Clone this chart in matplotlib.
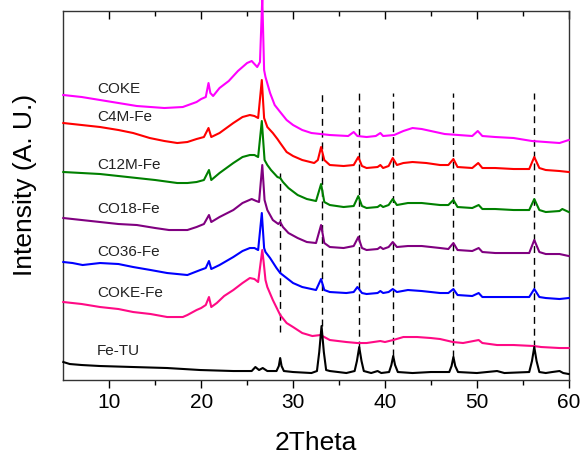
import matplotlib
matplotlib.use("Agg")
import matplotlib.pyplot as plt

plt.rcParams['font.family'] = ['Liberation Sans', 'DejaVu Sans']

# ---- data (intensity in arbitrary units, stacked) ----
coke_x = [5.0, 7.0, 9.0, 11.0, 13.0, 14.5, 16.0, 18.0, 19.5, 20.0, 20.5, 20.8, 21.0, 21.3, 22.0, 23.0,
          24.0, 25.0, 25.5, 26.1, 26.4, 26.65, 26.85, 27.0, 27.5, 28.0, 28.6, 29.3, 30.0, 31.0, 32.0, 33.0,
          34.0, 36.0, 36.6, 37.0, 38.0, 39.0, 39.5, 39.8, 41.0, 42.0, 43.0, 44.0, 45.0, 46.5, 48.0, 49.5,
          50.1, 50.6, 52.0, 54.0, 56.0, 57.5, 59.0, 60.0]
coke_y = [285, 283, 280, 277, 274, 273, 272, 273, 278, 281, 283, 297, 287, 284, 292, 299,
          309, 317, 319, 313, 318, 382, 310, 303, 287, 275, 268, 260, 255, 250, 247, 246,
          245, 244, 248, 244, 243, 244, 247, 244, 245, 249, 252, 251, 249, 246, 245, 244,
          249, 244, 243, 242, 239, 238, 237, 240]

c4m_x = [5.0, 7.0, 9.0, 11.0, 12.6, 14.4, 16.0, 17.4, 18.5, 19.5, 20.3, 20.8, 21.1, 22.0, 23.5, 24.5,
         25.3, 25.8, 26.2, 26.6, 26.85, 27.2, 27.8, 28.3, 28.6, 29.3, 30.0, 31.0, 32.3, 32.7, 33.05, 33.4,
         34.0, 35.5, 36.6, 37.1, 37.5, 38.0, 39.2, 39.5, 39.8, 40.4, 40.85, 41.3, 42.0, 43.0, 44.5, 46.0,
         46.9, 47.45, 47.9, 49.5, 50.15, 50.6, 52.0, 54.0, 55.7, 56.25, 56.8, 57.5, 59.0, 60.0]
c4m_y = [257, 255, 253, 250, 247, 242, 239, 237, 238, 241, 243, 252, 243, 247, 257, 263,
         265, 264, 262, 300, 262, 253, 247, 241, 237, 228, 224, 220, 217, 220, 233, 220,
         215, 214, 215, 223, 214, 212, 213, 215, 212, 214, 222, 215, 217, 218, 217, 215,
         215, 221, 213, 212, 217, 212, 212, 211, 211, 223, 212, 210, 209, 208]

c12m_x = [5.0, 7.0, 9.0, 11.0, 13.0, 15.0, 17.4, 18.5, 19.5, 20.3, 20.85, 21.1, 22.0, 23.5, 24.5, 25.3,
          25.8, 26.2, 26.6, 26.9, 27.2, 27.6, 28.3, 28.6, 28.9, 29.5, 30.5, 31.5, 32.5, 33.05, 33.4, 34.0,
          35.5, 36.6, 37.1, 37.5, 38.0, 39.2, 39.5, 39.8, 40.4, 40.85, 41.3, 42.5, 44.0, 46.0, 46.9, 47.45,
          47.9, 49.5, 50.2, 50.6, 52.0, 54.0, 55.7, 56.25, 56.8, 57.5, 59.0, 59.3, 60.0]
c12m_y = [208, 207, 206, 204, 202, 200, 197, 197, 198, 200, 210, 200, 207, 217, 223, 225,
          225, 223, 259, 220, 215, 210, 203, 202, 198, 192, 185, 181, 179, 196, 178, 175,
          173, 174, 184, 174, 172, 173, 175, 173, 175, 181, 175, 177, 177, 175, 175, 180,
          173, 172, 175, 171, 171, 170, 170, 181, 170, 168, 169, 171, 168]

co18_x = [5.0, 7.0, 9.0, 11.0, 13.0, 15.0, 16.5, 18.5, 19.5, 20.3, 20.85, 21.1, 22.0, 23.5, 24.5, 25.5,
          26.0, 26.3, 26.65, 26.9, 27.2, 27.8, 28.4, 28.6, 28.9, 29.5, 30.5, 31.5, 32.5, 33.05, 33.4, 34.0,
          35.5, 36.6, 37.1, 37.5, 38.0, 39.2, 39.5, 39.8, 40.4, 40.85, 41.3, 42.5, 44.0, 46.0, 46.9, 47.45,
          47.9, 49.5, 50.2, 50.6, 52.0, 54.0, 55.7, 56.25, 56.8, 57.5, 59.0, 60.0]
co18_y = [162, 160, 158, 156, 155, 152, 150, 150, 153, 156, 165, 158, 163, 170, 177, 181,
          179, 178, 215, 180, 170, 160, 156, 158, 153, 147, 142, 138, 137, 155, 137, 133,
          132, 134, 143, 132, 130, 131, 133, 131, 133, 138, 133, 134, 134, 132, 131, 137,
          130, 129, 132, 128, 127, 127, 127, 140, 128, 126, 126, 124]

co36_x = [5.0, 6.0, 7.1, 9.0, 11.0, 12.6, 14.5, 16.3, 18.5, 19.9, 20.5, 20.85, 21.1, 22.0, 23.5, 24.5,
          25.3, 25.8, 26.2, 26.6, 26.85, 27.0, 27.5, 28.2, 28.6, 29.3, 30.0, 31.0, 32.5, 33.05, 33.4, 34.0,
          35.8, 36.6, 37.0, 37.5, 38.0, 39.2, 39.5, 39.8, 40.4, 40.85, 41.3, 42.5, 44.0, 46.0, 46.9, 47.45,
          47.9, 49.5, 50.2, 50.6, 52.0, 54.0, 55.7, 56.25, 56.8, 57.5, 59.0, 60.0]
co36_y = [118, 117, 115, 117, 116, 113, 110, 107, 105, 110, 112, 119, 111, 115, 123, 129,
          132, 132, 130, 167, 132, 128, 122, 112, 107, 102, 97, 93, 90, 101, 90, 88,
          87, 88, 93, 87, 86, 87, 89, 87, 88, 91, 88, 90, 89, 87, 87, 91,
          85, 84, 87, 83, 83, 83, 83, 91, 83, 82, 81, 82]

cokefe_x = [5.0, 7.0, 9.0, 11.0, 12.6, 14.5, 16.3, 18.0, 18.5, 19.5, 20.0, 20.5, 20.85, 21.1, 21.7, 22.5,
            23.5, 24.5, 25.3, 25.8, 26.2, 26.65, 26.8, 27.0, 27.2, 27.8, 28.6, 29.3, 30.0, 31.0, 32.1, 33.0,
            33.4, 34.0, 35.8, 37.0, 38.0, 39.5, 40.0, 40.9, 42.0, 43.5, 45.0, 46.0, 47.4, 48.5, 50.2, 50.6,
            52.2, 54.0, 56.2, 57.0, 59.0, 60.0]
cokefe_y = [78, 76, 73, 71, 68, 66, 63, 63, 65, 70, 72, 75, 83, 73, 77, 84,
            90, 97, 102, 101, 98, 130, 118, 100, 93, 80, 65, 57, 53, 47, 44, 45,
            43, 40, 38, 37, 37, 39, 38, 40, 43, 43, 42, 41, 38, 37, 40, 37,
            35, 35, 34, 33, 32, 32]

fetu_x = [5.0, 5.7, 7.0, 9.0, 12.6, 16.3, 19.9, 23.5, 25.5, 25.9, 26.3, 26.7, 27.2, 28.2, 28.45, 28.6,
          28.75, 29.0, 30.0, 32.0, 32.6, 32.85, 33.1, 33.35, 33.6, 34.0, 35.8, 36.7, 36.95, 37.2, 37.45, 37.7,
          38.5, 39.2, 39.6, 40.45, 40.7, 40.9, 41.1, 41.4, 43.0, 45.0, 47.0, 47.25, 47.45, 47.65, 47.95, 50.0,
          52.2, 53.0, 55.7, 56.0, 56.25, 56.5, 56.8, 57.5, 58.2, 59.0, 59.4, 60.0]
fetu_y = [18, 16, 15, 14, 13, 12, 10, 9, 9, 13, 10, 12, 9, 9, 14, 22,
          14, 9, 8, 7, 9, 28, 54, 28, 10, 9, 7, 9, 19, 33, 19, 9,
          7, 9, 7, 8, 15, 24, 15, 8, 7, 8, 8, 14, 23, 14, 8, 7,
          9, 7, 8, 19, 33, 19, 8, 7, 8, 9, 7, 6]

series_names = ["COKE", "C4M-Fe", "C12M-Fe", "CO18-Fe", "CO36-Fe", "COKE-Fe", "Fe-TU"]
series_x = [coke_x, c4m_x, c12m_x, co18_x, co36_x, cokefe_x, fetu_x]
series_y = [coke_y, c4m_y, c12m_y, co18_y, co36_y, cokefe_y, fetu_y]
series_colors = ["#FF00FF", "#FF0000", "#008000", "#800080", "#0000FF", "#FF0A85", "#000000"]
label_y = [291, 263, 215, 171, 128, 87, 29]

ref_x = [28.6, 33.1, 37.2, 40.9, 47.45, 56.25]
ref_top = [207, 287, 287, 287, 287, 287]
ref_bottom = [48, 54, 32, 24, 23, 33]

xticks = [10, 20, 30, 40, 50, 60]
xminor = [15, 25, 35, 45, 55]

# ---- figure ----
fig = plt.figure(figsize=(5.82, 4.53), dpi=100)
ax = fig.add_axes([0.1088, 0.1611, 0.8684, 0.8146])

for xs, ys, c in zip(series_x, series_y, series_colors):
    ax.plot(xs, ys, color=c, lw=1.5, clip_on=False, solid_joinstyle='round', zorder=3)

ax.vlines(ref_x, ref_bottom, ref_top, colors='black', linestyles=(0, (5, 3.5)), lw=1.0, zorder=2)

for name, ly in zip(series_names, label_y):
    ax.text(8.67, ly, name, fontsize=11, color='#222222', ha='left', va='center')

ax.set_xlim(5, 60)
ax.set_ylim(0, 369)
ax.set_xticks(xticks)
ax.set_xticks(xminor, minor=True)
ax.set_yticks([])
ax.tick_params(axis='x', which='major', direction='out', length=6, width=1, labelsize=15, pad=3)
ax.tick_params(axis='x', which='minor', direction='out', length=3.5, width=1)

top = ax.secondary_xaxis('top')
top.set_xticks(xticks)
top.set_xticks(xminor, minor=True)
top.tick_params(axis='x', which='major', direction='in', length=6, width=1, labeltop=False)
top.tick_params(axis='x', which='minor', direction='in', length=3.5, width=1)
top.spines['top'].set_visible(False)

for s in ax.spines.values():
    s.set_color('#333333')
    s.set_linewidth(1.0)

ax.set_xlabel("2Theta", fontsize=19, va='baseline')
ax.xaxis.set_label_coords(0.5, -(449.5 - 380) / 369)
ax.set_ylabel("Intensity (A. U.)", fontsize=19, va='center')
ax.yaxis.set_label_coords(-0.0758, 0.528)

fig.savefig("out.png", dpi=100)
